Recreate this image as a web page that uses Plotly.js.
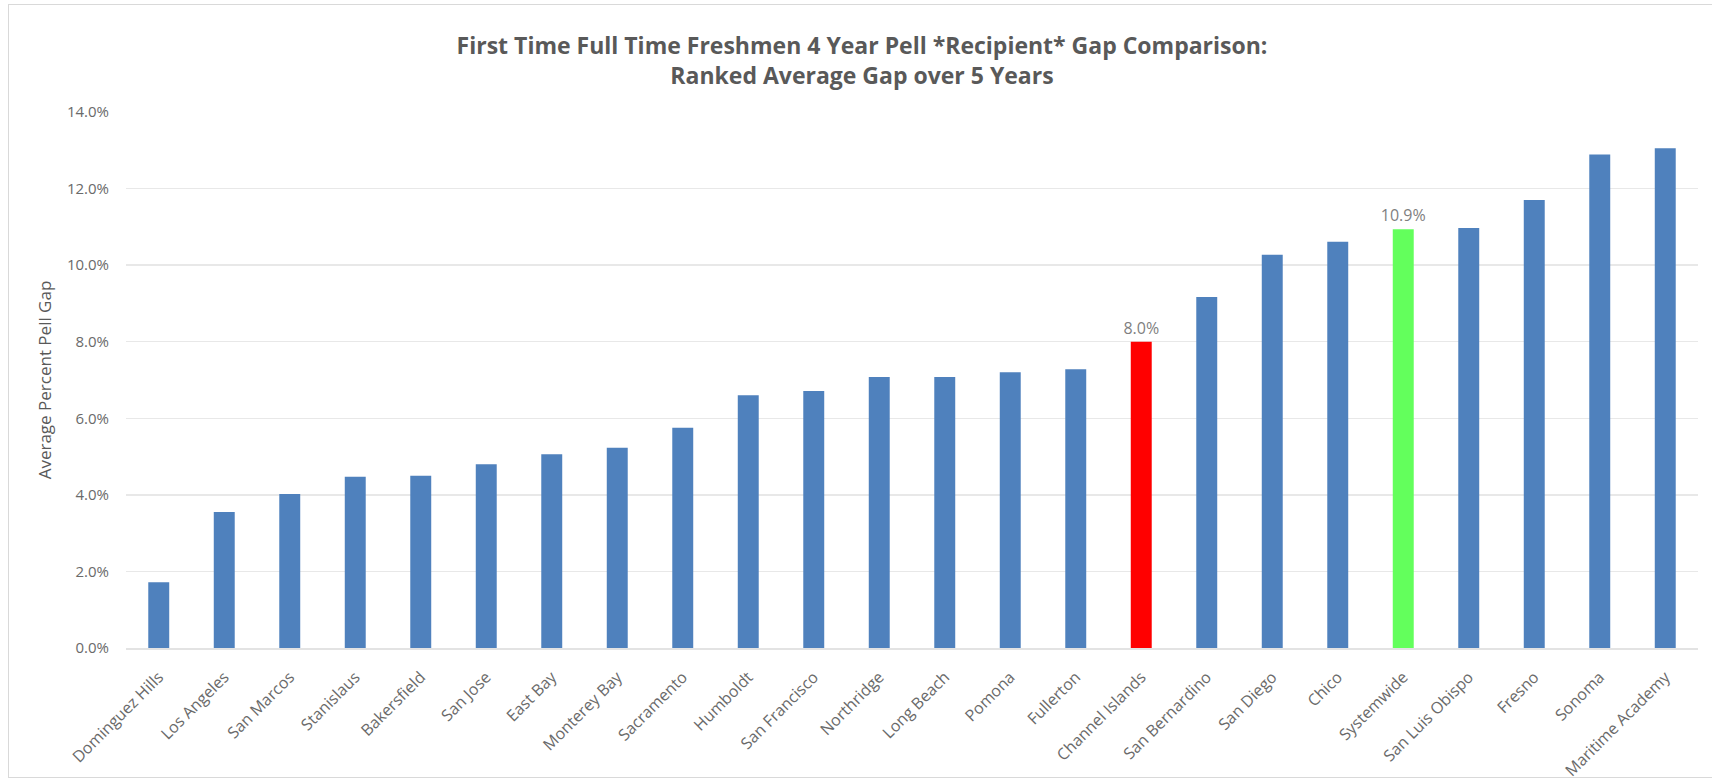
<!DOCTYPE html>
<html>
<head>
<meta charset="utf-8">
<script src="https://cdn.plot.ly/plotly-3.0.1.min.js"></script>
<style>
  html, body { margin: 0; padding: 0; background: #ffffff; }
  #wrap { position: relative; width: 1712px; height: 784px; overflow: hidden; }
  #chart { width: 1712px; height: 784px; }
  #frame { position: absolute; left: 8px; top: 4px; width: 1740px; height: 772px;
           border: 1.5px solid #d9d9d9; pointer-events: none; }
</style>
</head>
<body>
<div id="wrap">
  <div id="chart"></div>
  <div id="frame"></div>
</div>
<script>
// Campuses ranked by average gap (percent)
const campuses = [
  "Dominguez Hills", "Los Angeles", "San Marcos", "Stanislaus", "Bakersfield",
  "San Jose", "East Bay", "Monterey Bay", "Sacramento", "Humboldt",
  "San Francisco", "Northridge", "Long Beach", "Pomona", "Fullerton",
  "Channel Islands", "San Bernardino", "San Diego", "Chico", "Systemwide",
  "San Luis Obispo", "Fresno", "Sonoma", "Maritime Academy"
];
const gapValues = [
  1.72, 3.55, 4.02, 4.47, 4.50,
  4.80, 5.06, 5.23, 5.75, 6.60,
  6.71, 7.08, 7.08, 7.20, 7.28,
  8.00, 9.17, 10.27, 10.61, 10.94,
  10.97, 11.70, 12.89, 13.05
];
const highlightRed = "Channel Islands";
const highlightGreen = "Systemwide";
const yTickValues = [0, 2, 4, 6, 8, 10, 12, 14];

const barColors = campuses.map(c =>
  c === highlightRed ? "#ff0000" : (c === highlightGreen ? "#63ff5c" : "#4f81bd"));
const barLabels = campuses.map((c, i) =>
  (c === highlightRed || c === highlightGreen) ? gapValues[i].toFixed(1) + "%" : "");

const trace = {
  type: "bar",
  x: campuses,
  y: gapValues,
  marker: { color: barColors, line: { width: 0 } },
  text: barLabels,
  textposition: "outside",
  constraintext: "none",
  textfont: { family: "Open Sans, sans-serif", size: 16, color: "#7f7f7f" },
  cliponaxis: false,
  hoverinfo: "x+y"
};

const layout = {
  width: 1712,
  height: 784,
  paper_bgcolor: "#ffffff",
  plot_bgcolor: "#ffffff",
  margin: { l: 126, r: 14, t: 112, b: 136 },
  bargap: 0.68,
  showlegend: false,
  font: { family: "Open Sans, sans-serif", color: "#595959" },
  title: {
    text: "First Time Full Time Freshmen 4 Year Pell *Recipient* Gap Comparison:<br>Ranked Average Gap over 5 Years",
    font: { family: "Open Sans, sans-serif", size: 23, color: "#595959", weight: "bold" },
    xref: "container", x: 862 / 1712, xanchor: "center",
    yref: "container", y: 1 - 54 / 784, yanchor: "top"
  },
  xaxis: {
    type: "category",
    tickangle: -45,
    tickfont: { family: "Open Sans, sans-serif", size: 16, color: "#6a6a6a" },
    showgrid: false,
    showline: true,
    linecolor: "#e3e3e3",
    linewidth: 1.5,
    ticks: "",
    ticklabelstandoff: 12,
    fixedrange: true
  },
  yaxis: {
    range: [0, 14],
    tickvals: yTickValues,
    ticktext: yTickValues.map(v => v.toFixed(1) + "%"),
    tickfont: { family: "Open Sans, sans-serif", size: 15, color: "#6a6a6a" },
    showgrid: true,
    gridcolor: "#e8e8e8",
    gridwidth: 1.5,
    zeroline: false,
    showline: false,
    ticks: "",
    ticklabelstandoff: 16,
    title: {
      text: "Average Percent Pell Gap",
      font: { family: "Open Sans, sans-serif", size: 17, color: "#595959" },
      standoff: 10
    },
    fixedrange: true
  }
};

Plotly.newPlot("chart", [trace], layout, { displayModeBar: false, staticPlot: true });
</script>
</body>
</html>
